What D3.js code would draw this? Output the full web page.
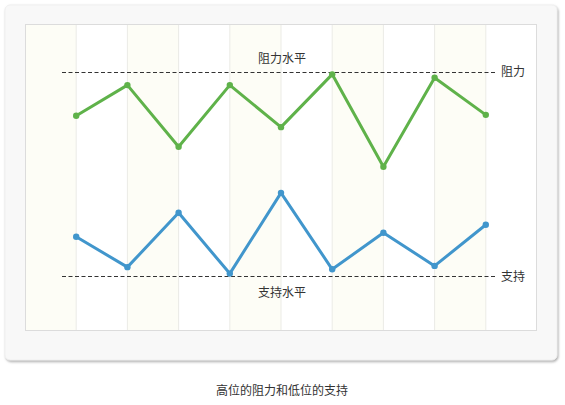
<!DOCTYPE html>
<html>
<head>
<meta charset="utf-8">
<script src="https://cdn.jsdelivr.net/npm/d3@7"></script>
<style>
  body { margin: 0; background: #fff; }
  svg text { font-family: "Noto Sans CJK SC", "DejaVu Sans", sans-serif; }
</style>
</head>
<body>
<svg id="chart"></svg>
<script>
// data
const points = [0, 1, 2, 3, 4, 5, 6, 7, 8]
const highSeries = [70.1, 80.1, 60.0, 80.1, 66.4, 83.6, 53.5, 82.5, 70.4]
const lowSeries = [30.7, 20.8, 38.5, 18.7, 45.0, 20.1, 32.0, 21.2, 34.6]
const resistanceLevel = 84.5
const supportLevel = 17.8
const levelTexts = ["阻力水平", "支持水平"]
const levelTags = ["阻力", "支持"]
const caption = "高位的阻力和低位的支持"

const w = 565
const h = 405

const svg = d3.select("#chart").attr("width", w).attr("height", h)

// card with shadow
const defs = svg.append("defs")
const f = defs.append("filter").attr("id", "sh").attr("x", "-5%").attr("y", "-5%").attr("width", "110%").attr("height", "110%")
f.append("feDropShadow").attr("dx", 1).attr("dy", 1.5).attr("stdDeviation", 1).attr("flood-color", "#999").attr("flood-opacity", 0.8)

svg.append("rect").attr("x", 5).attr("y", 5).attr("width", 552).attr("height", 355).attr("rx", 5)
  .attr("fill", "#f8f8f8").attr("stroke", "#f0f0f0").attr("filter", "url(#sh)")

// plot area
const pLeft = 25, pRight = 537, pTop = 24, pBottom = 331

const x = d3.scaleLinear().domain([-1, 9]).range([pLeft, pRight])
const y = d3.scaleLinear().domain([0, 100]).range([pBottom, pTop])

svg.append("rect").attr("x", pLeft).attr("y", pTop).attr("width", pRight - pLeft).attr("height", pBottom - pTop)
  .attr("fill", "#fff")

// alternating bands
const bands = d3.range(-1, 9)
svg.selectAll("rect.band").data(bands).enter().append("rect").attr("class", "band")
  .attr("x", d => x(d)).attr("y", pTop)
  .attr("width", d => x(d + 1) - x(d)).attr("height", pBottom - pTop)
  .attr("fill", (d, i) => i % 2 === 0 ? "#fdfdf6" : "#fff")

// grid lines
svg.selectAll("line.grid").data(points).enter().append("line").attr("class", "grid")
  .attr("x1", d => x(d)).attr("x2", d => x(d))
  .attr("y1", pTop).attr("y2", pBottom)
  .attr("stroke", "#ebebe6").attr("stroke-width", 1)

svg.append("rect").attr("x", pLeft + 0.5).attr("y", pTop + 0.5).attr("width", pRight - pLeft - 1).attr("height", pBottom - pTop - 1)
  .attr("fill", "none").attr("stroke", "#dcdcdc")

// level lines
const levels = [resistanceLevel, supportLevel]
svg.selectAll("line.level").data(levels).enter().append("line").attr("class", "level")
  .attr("x1", 62).attr("x2", 497)
  .attr("y1", d => Math.round(y(d)) + 0.5).attr("y2", d => Math.round(y(d)) + 0.5)
  .attr("stroke", "#333").attr("stroke-dasharray", "4,2.5").attr("stroke-width", 1)

svg.selectAll("text.tag").data(levels).enter().append("text").attr("class", "tag")
  .attr("x", 501).attr("y", d => y(d) + 4.5)
  .attr("font-size", 12).attr("fill", "#333")
  .text((d, i) => levelTags[i])

svg.selectAll("text.ltext").data(levels).enter().append("text").attr("class", "ltext")
  .attr("x", 282).attr("y", (d, i) => i === 0 ? y(d) - 9 : y(d) + 21)
  .attr("text-anchor", "middle").attr("font-size", 12).attr("fill", "#333")
  .text((d, i) => levelTexts[i])

// series
const line = d3.line().x((d, i) => x(points[i])).y(d => y(d))
const series = [
  { values: highSeries, color: "#5fb24a" },
  { values: lowSeries, color: "#4196cc" }
]
series.forEach(s => {
  svg.append("path").attr("d", line(s.values)).attr("fill", "none")
    .attr("stroke", s.color).attr("stroke-width", 3).attr("stroke-linejoin", "round")
  svg.selectAll(null).data(s.values).enter().append("circle")
    .attr("cx", (d, i) => x(points[i])).attr("cy", d => y(d)).attr("r", 3.2)
    .attr("fill", s.color)
})

// caption
svg.append("text").attr("x", 282).attr("y", 395)
  .attr("text-anchor", "middle").attr("font-size", 12).attr("fill", "#333")
  .text(caption)
</script>
</body>
</html>
